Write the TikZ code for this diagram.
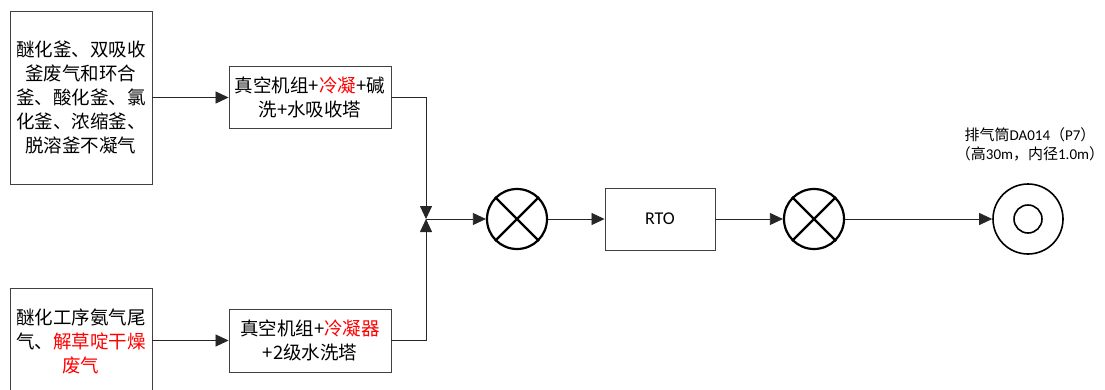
\documentclass[tikz,border=0pt]{standalone}
\usepackage{fontspec}
\setmainfont{Noto Sans CJK SC}
\newfontfamily\lat{Carlito}
\usetikzlibrary{arrows.meta}
\begin{document}
\begin{tikzpicture}[x=1pt,y=-1pt,
  box/.style={draw=black!75,line width=0.9pt,align=center,inner sep=0pt,font=\fontsize{18.5}{24}\selectfont},
  conn/.style={draw=black!85,line width=0.8pt},
  arr/.style={conn,-{Triangle[length=13pt,width=12pt]}},
  valve/.style={circle,draw=black,line width=2.2pt,minimum size=60pt,inner sep=0pt}]
\useasboundingbox (0,0) rectangle (1105,389);
\fill[white] (0,0) rectangle (1105,389);
\node[box,minimum width=142pt,minimum height=173pt] (s1) at (81,97.5)
  {醚化釜、双吸收\\釜废气和环合\\釜、酸化釜、氯\\化釜、浓缩釜、\\脱溶釜不凝气};
\node[box,minimum width=142pt,minimum height=106pt] (s2) at (81,341)
  {醚化工序氨气尾\\气、\textcolor{red}{解草啶干燥}\\\textcolor{red}{废气}};
\node[box,minimum width=162pt,minimum height=62pt] (a) at (310,97.5)
  {真空机组+\textcolor{red}{冷凝}+碱\\洗+水吸收塔};
\node[box,minimum width=162pt,minimum height=63pt] (b) at (310,340.5)
  {真空机组+\textcolor{red}{冷凝器}\\+2级水洗塔};
\coordinate (j) at (426,219);
\node[valve] (c1) at (517,219) {};
\node[box,minimum width=110pt,minimum height=62pt,font=\lat\fontsize{18}{20}\selectfont] (rto) at (660,219) {RTO};
\node[valve] (c2) at (814,219) {};
\node[circle,draw=black,line width=1.6pt,minimum size=70pt,inner sep=0pt] (st) at (1028,219) {};
\node[circle,draw=black,line width=1.6pt,minimum size=28pt,inner sep=0pt] (sti) at (1028,219) {};
\node[align=center,inner sep=0pt,font=\fontsize{15}{18.5}\selectfont] (lbl) at (1030,144.5)
  {排气筒{\lat DA014}（{\lat P7}）\\（高{\lat 30m}，内径{\lat 1.0m}）};
\draw[line width=2.2pt] (c1.north west)--(c1.south east) (c1.north east)--(c1.south west);
\draw[line width=2.2pt] (c2.north west)--(c2.south east) (c2.north east)--(c2.south west);
\draw[arr] (s1.east |- a.west) -- (a.west);
\draw[arr] (s2.east |- b.west) -- (b.west);
\draw[arr] (a.east) -- (a.east -| j) -- (j);
\draw[arr] (b.east) -- (b.east -| j) -- (j);
\draw[arr] (j) -- (c1.west);
\draw[arr] (c1.east) -- (rto.west);
\draw[arr] (rto.east) -- (c2.west);
\draw[arr] (c2.east) -- (st.west);
\end{tikzpicture}
\end{document}
